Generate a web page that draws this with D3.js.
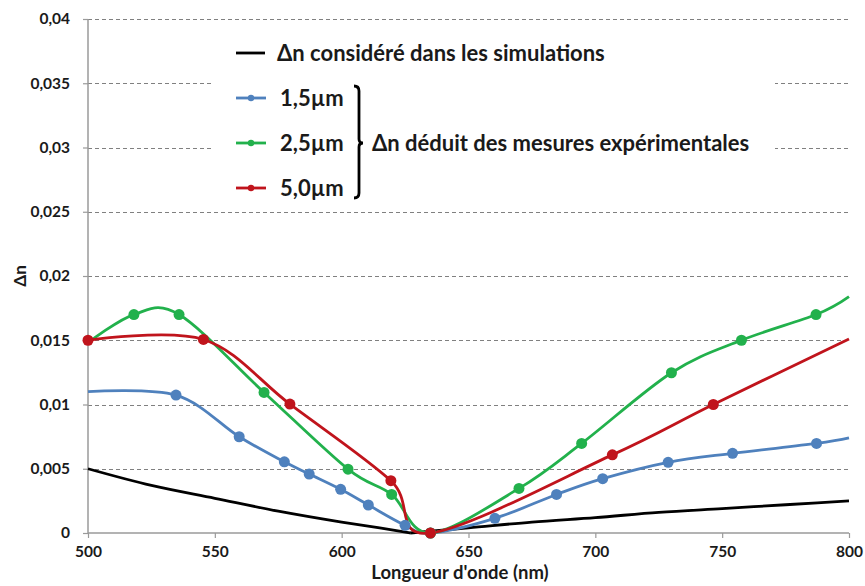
<!DOCTYPE html>
<html><head><meta charset="utf-8">
<script src="https://cdn.jsdelivr.net/npm/d3@7"></script>
<style>
body{margin:0;background:#fff}
svg{display:block}
text{font-family:Lato,"Open Sans",sans-serif;font-weight:700;fill:#1a1a1a}
</style>
</head><body>
<svg id="chart" width="865" height="586"></svg>
<script>
// ---- data ----
const yTicks = [0, 0.005, 0.01, 0.015, 0.02, 0.025, 0.03, 0.035, 0.04];
const xTicks = [500, 550, 600, 650, 700, 750, 800];

const simWavelength = [500, 525, 550, 575, 600, 615, 627, 650, 675, 700, 725, 750, 775, 800];
const simValue      = [0.0050, 0.0037, 0.0027, 0.0017, 0.00085, 0.0004, 0, 0.0004, 0.00085, 0.0012, 0.0016, 0.0019, 0.0022, 0.0025];

const w15 = [500, 534.7, 559.6, 577.4, 587.2, 599.6, 610.5, 625, 635, 660.4, 684.7, 702.9, 728.7, 754.1, 787.2, 800];
const v15 = [0.0110, 0.01073, 0.00749, 0.00554, 0.00459, 0.0034, 0.00218, 0.0006, 0, 0.00114, 0.0030, 0.00423, 0.0055, 0.0062, 0.00697, 0.0074];
const m15 = [0, 1, 1, 1, 1, 1, 1, 1, 1, 1, 1, 1, 1, 1, 1, 0];

const w25 = [500, 518.1, 535.9, 569.4, 602.5, 619.7, 635, 669.9, 694.6, 730, 757.6, 787, 800];
const v25 = [0.0148, 0.0170, 0.0170, 0.01094, 0.00497, 0.0030, 0, 0.00347, 0.00697, 0.01247, 0.0150, 0.0170, 0.0184];
const m25 = [0, 1, 1, 1, 1, 1, 1, 1, 1, 1, 1, 1, 0];

const w50 = [500, 545.5, 579.6, 619.4, 635, 706.7, 746.5, 800];
const v50 = [0.0150, 0.01506, 0.01003, 0.00407, 0, 0.00608, 0.0100, 0.0151];
const m50 = [1, 1, 1, 1, 1, 1, 1, 0];

const seriesNames = ["1,5µm", "2,5µm", "5,0µm"];
const seriesColors = ["#4F81BD", "#22B14C", "#C0141C"];
const simName = "Δn considéré dans les simulations";
const groupName = "Δn déduit des mesures expérimentales";
const xTitle = "Longueur d'onde (nm)";
const yTitle = "Δn";

// ---- layout ----
const svg = d3.select("#chart");
const x = d3.scaleLinear().domain([500, 800]).range([88, 849]);
const y = d3.scaleLinear().domain([0, 0.04]).range([533, 19]);
const fmt = v => v === 0 ? "0" : String(+v.toFixed(3)).replace(".", ",");

// gridlines
svg.append("g").selectAll("line").data(yTicks.filter(d => d > 0)).join("line")
  .attr("x1", x(500)).attr("x2", x(800))
  .attr("y1", d => Math.round(y(d)) + 0.5).attr("y2", d => Math.round(y(d)) + 0.5)
  .attr("stroke", "#808080").attr("stroke-width", 1).attr("stroke-dasharray", "4,3");

// legend background (covers gridlines)
svg.append("rect").attr("x", 214).attr("y", 27).attr("width", 561).attr("height", 178).attr("fill", "#fff");

// axes
const yAxis = svg.append("g").attr("transform", `translate(${x(500)},0)`)
  .call(d3.axisLeft(y).tickValues(yTicks).tickFormat(fmt).tickSize(5).tickPadding(13));
const xAxis = svg.append("g").attr("transform", `translate(0,${y(0)})`)
  .call(d3.axisBottom(x).tickValues(xTicks).tickFormat(d3.format("d")).tickSize(5).tickPadding(8));
[yAxis, xAxis].forEach(g => {
  g.select(".domain").attr("stroke", "#9a9a9a").attr("stroke-width", 1.5);
  g.selectAll(".tick line").attr("stroke", "#9a9a9a").attr("stroke-width", 1.2);
  g.selectAll(".tick text").attr("font-family", "Lato").attr("font-weight", 700).attr("font-size", 15.5).attr("fill", "#1a1a1a");
});
yAxis.select(".domain").attr("d", `M0,${y(0.04)}V${y(0)}`);
xAxis.select(".domain").attr("d", `M${x(500)},0H${x(800)}`);

// axis titles
svg.append("text").attr("x", 460).attr("y", 579).attr("text-anchor", "middle")
  .attr("font-size", 18.5).text(xTitle);
svg.append("text").attr("transform", "translate(26,276) rotate(-90)").attr("text-anchor", "middle")
  .attr("font-size", 17).text(yTitle);

// simulation curve (kink at the minimum)
const sim = simWavelength.map((w, i) => ({w, v: simValue[i]}));
const minIdx = d3.minIndex(sim, d => d.v);
const simLine = d3.line().x(d => x(d.w)).y(d => y(d.v)).curve(d3.curveMonotoneX);
[sim.slice(0, minIdx + 1), sim.slice(minIdx)].forEach(seg => {
  svg.append("path").attr("d", simLine(seg)).attr("fill", "none")
    .attr("stroke", "#000").attr("stroke-width", 2.8);
});

// experimental series
const series = [
  {w: w15, v: v15, m: m15},
  {w: w25, v: v25, m: m25},
  {w: w50, v: v50, m: m50}
].map((s, k) => ({pts: s.w.map((w, i) => ({w, v: s.v[i], m: s.m[i]})), color: seriesColors[k], name: seriesNames[k]}));

const smooth = d3.line().x(d => x(d.w)).y(d => y(d.v)).curve(d3.curveCardinal.tension(0));
series.forEach(s => {
  svg.append("path").attr("d", smooth(s.pts)).attr("fill", "none")
    .attr("stroke", s.color).attr("stroke-width", 2.8);
});
series.forEach(s => {
  svg.append("g").selectAll("circle").data(s.pts.filter(d => d.m)).join("circle")
    .attr("cx", d => x(d.w)).attr("cy", d => y(d.v)).attr("r", 5.5).attr("fill", s.color);
});

// legend
const lg = svg.append("g");
lg.append("line").attr("x1", 236).attr("x2", 265).attr("y1", 53).attr("y2", 53)
  .attr("stroke", "#000").attr("stroke-width", 2.8);
lg.append("text").attr("x", 277).attr("y", 53).attr("dy", "0.35em").attr("font-size", 22).text(simName);
const ly = [98, 143, 188];
series.forEach((s, k) => {
  lg.append("line").attr("x1", 236).attr("x2", 266).attr("y1", ly[k]).attr("y2", ly[k])
    .attr("stroke", s.color).attr("stroke-width", 2.8);
  lg.append("circle").attr("cx", 251).attr("cy", ly[k]).attr("r", 3.2).attr("fill", s.color);
  lg.append("text").attr("x", 280).attr("y", ly[k]).attr("dy", "0.35em").attr("font-size", 22).text(s.name);
});
// bracket
lg.append("path")
  .attr("d", "M354,86 Q359,86 359,91 V139 Q359,143 363,143 Q359,143 359,147 V193 Q359,198 354,198")
  .attr("fill", "none").attr("stroke", "#000").attr("stroke-width", 2.8);
lg.append("text").attr("x", 372).attr("y", 143).attr("dy", "0.35em").attr("font-size", 22).text(groupName);
</script>
</body></html>
